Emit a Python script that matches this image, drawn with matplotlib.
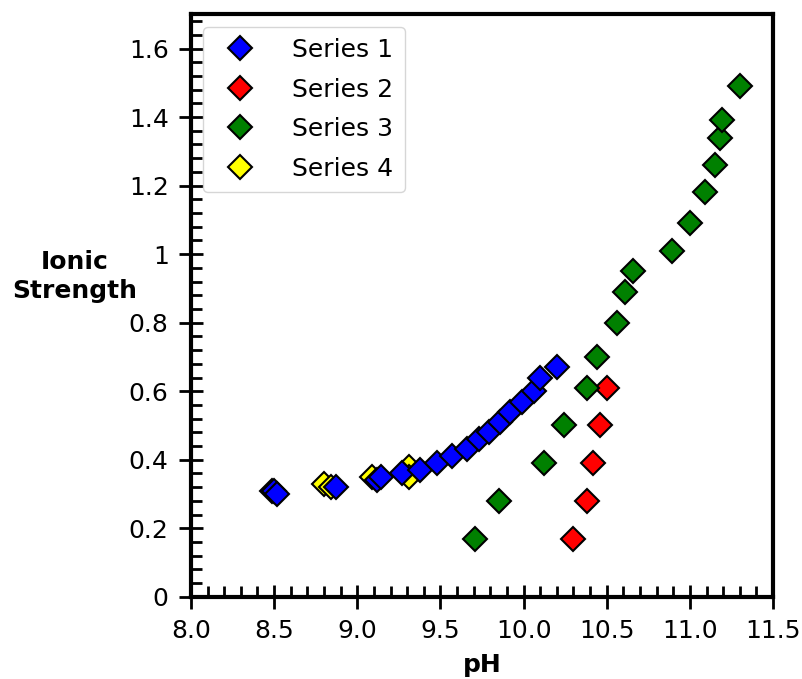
import matplotlib
matplotlib.use("Agg")
import matplotlib.pyplot as plt
from matplotlib.ticker import MultipleLocator, FuncFormatter

s1_x = [8.50, 8.52, 8.87, 9.12, 9.14, 9.27, 9.38, 9.48, 9.57, 9.66, 9.73, 9.79, 9.86, 9.92, 9.99, 10.06, 10.10, 10.20]
s1_y = [0.31, 0.30, 0.32, 0.34, 0.35, 0.36, 0.37, 0.39, 0.41, 0.43, 0.46, 0.48, 0.51, 0.54, 0.57, 0.60, 0.64, 0.67]

s2_x = [10.30, 10.38, 10.42, 10.46, 10.50]
s2_y = [0.17, 0.28, 0.39, 0.50, 0.61]

s3_x = [9.71, 9.85, 10.12, 10.24, 10.38, 10.44, 10.56, 10.61, 10.66, 10.89, 11.00, 11.09, 11.15, 11.18, 11.19, 11.30]
s3_y = [0.17, 0.28, 0.39, 0.50, 0.61, 0.70, 0.80, 0.89, 0.95, 1.01, 1.09, 1.18, 1.26, 1.34, 1.39, 1.49]

s4_x = [8.49, 8.80, 8.84, 9.09, 9.31, 9.31]
s4_y = [0.31, 0.33, 0.32, 0.35, 0.38, 0.35]

series = [
    ("Series 1", s1_x, s1_y, "blue"),
    ("Series 2", s2_x, s2_y, "red"),
    ("Series 3", s3_x, s3_y, "green"),
    ("Series 4", s4_x, s4_y, "yellow"),
]

FS = 18

fig = plt.figure(figsize=(8.02, 6.79), dpi=100)
ax = fig.add_axes([0.238, 0.121, 0.726, 0.858])

z = {"Series 1": 4, "Series 2": 3, "Series 3": 3, "Series 4": 2}
for name, xs, ys, c in series:
    ax.plot(xs, ys, linestyle="none", marker="D", markersize=12, color=c,
            markeredgecolor="black", markeredgewidth=1.5, label=name, zorder=z[name])

ax.set_xlim(8.0, 11.5)
ax.set_ylim(0, 1.7)
ax.xaxis.set_major_locator(MultipleLocator(0.5))
ax.xaxis.set_minor_locator(MultipleLocator(0.1))
ax.yaxis.set_major_locator(MultipleLocator(0.2))
ax.yaxis.set_minor_locator(MultipleLocator(0.04))
ax.xaxis.set_major_formatter(FuncFormatter(lambda v, p: f"{v:.1f}"))
ax.yaxis.set_major_formatter(FuncFormatter(lambda v, p: f"{v:g}"))

for sp in ax.spines.values():
    sp.set_linewidth(3)
ax.tick_params(which="major", direction="inout", length=17, width=2, labelsize=FS, pad=7.5)
ax.tick_params(which="minor", direction="in", length=8, width=2)

ax.set_xlabel("pH", fontsize=FS, fontweight="bold", labelpad=7)
ax.set_ylabel("Ionic\nStrength", fontsize=FS, fontweight="bold", rotation=0,
              ha="center", va="center", linespacing=1.25)
ax.yaxis.set_label_coords(-0.2, 0.55)

leg = ax.legend(loc="upper left", fontsize=FS, handletextpad=1.1, borderpad=0.45,
                labelspacing=0.62, framealpha=0.8)

fig.savefig("out.png", dpi=100)
